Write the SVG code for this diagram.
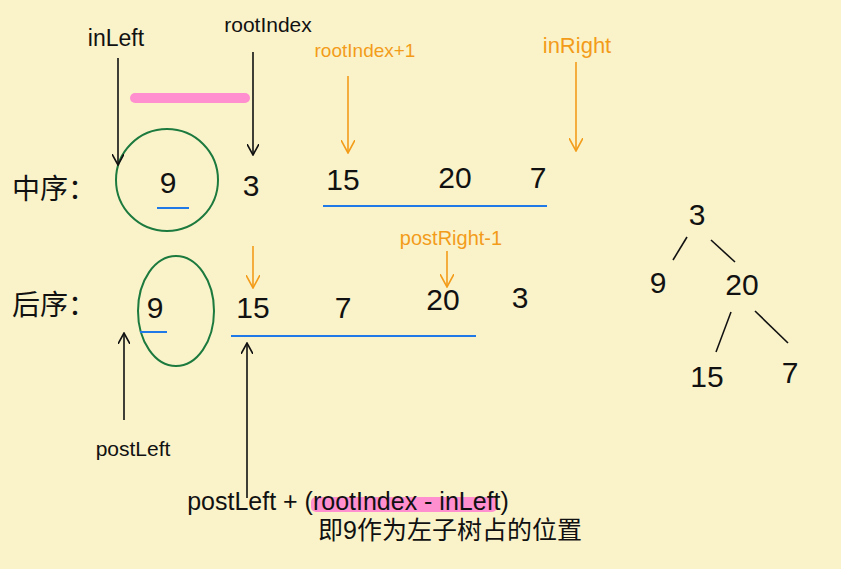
<svg xmlns="http://www.w3.org/2000/svg" width="841" height="569" viewBox="0 0 841 569">
<defs>
<marker id="ab" viewBox="0 0 12 12" refX="11" refY="6" markerWidth="12" markerHeight="12" markerUnits="userSpaceOnUse" orient="auto">
<path d="M0,0 L11,6 L0,12" fill="none" stroke="#111" stroke-width="1.6"/>
</marker>
<marker id="ao" viewBox="0 0 14 14" refX="13" refY="7" markerWidth="14" markerHeight="14" markerUnits="userSpaceOnUse" orient="auto">
<path d="M0,0 L13,7 L0,14" fill="none" stroke="#f39c1a" stroke-width="1.6"/>
</marker>
</defs>
<style>
.t{font-family:"Liberation Sans","Noto Sans CJK SC",sans-serif;fill:#111;text-anchor:middle}
.n{font-size:30px}
.lb{font-size:21px}
.or{fill:#f39c1a;font-size:19px}
.cn{font-size:28px;text-anchor:start}
.bk{stroke:#111;stroke-width:1.6;fill:none}
.og{stroke:#f39c1a;stroke-width:1.6;fill:none}
.bl{stroke:#1f7ae8;stroke-width:2;fill:none}
.gr{stroke:#1d7a3e;stroke-width:2;fill:none}
</style>
<rect width="841" height="569" fill="#faf3ca"/>

<g id="highlight">
<line x1="135" y1="98" x2="245" y2="98" stroke="#ff8fcf" stroke-width="10" stroke-linecap="round"/>
<rect x="311" y="497" width="186" height="15" rx="5" fill="#ff8fcf"/>
</g>

<g id="label-inorder"><text class="t cn" x="12" y="199">中序：</text></g>
<g id="label-postorder"><text class="t cn" x="12" y="315">后序：</text></g>

<g id="in-9">
<circle cx="167" cy="180" r="51" class="gr"/>
<text class="t n" x="168" y="193">9</text>
<line x1="157" y1="208" x2="189" y2="208" class="bl"/>
</g>
<g id="in-3"><text class="t n" x="251" y="196">3</text></g>
<g id="in-15"><text class="t n" x="343" y="190">15</text></g>
<g id="in-20"><text class="t n" x="455" y="188">20</text></g>
<g id="in-7"><text class="t n" x="538" y="188">7</text></g>
<g id="in-right-range"><line x1="323" y1="206" x2="547" y2="206" class="bl"/></g>

<g id="post-9">
<ellipse cx="176" cy="311" rx="38" ry="55" class="gr"/>
<text class="t n" x="155" y="318">9</text>
<line x1="140" y1="332" x2="167" y2="332" class="bl"/>
</g>
<g id="post-15"><text class="t n" x="253" y="318">15</text></g>
<g id="post-7"><text class="t n" x="343" y="318">7</text></g>
<g id="post-20"><text class="t n" x="443" y="310">20</text></g>
<g id="post-3"><text class="t n" x="520" y="308">3</text></g>
<g id="post-right-range"><line x1="231" y1="336" x2="476" y2="336" class="bl"/></g>

<g id="lbl-inLeft"><text class="t" style="font-size:23px" x="116" y="46">inLeft</text></g>
<g id="lbl-rootIndex"><text class="t lb" x="268" y="32">rootIndex</text></g>
<g id="lbl-rootIndex1"><text class="t or" x="365" y="57">rootIndex+1</text></g>
<g id="lbl-inRight"><text class="t or" style="font-size:22px" x="577" y="53">inRight</text></g>
<g id="lbl-postRight1"><text class="t or" style="font-size:20px" x="451" y="245">postRight-1</text></g>
<g id="lbl-postLeft"><text class="t lb" x="133" y="456">postLeft</text></g>
<g id="lbl-formula"><text class="t" style="font-size:25px" x="348" y="510">postLeft + (rootIndex - inLeft)</text></g>
<g id="lbl-note"><text class="t" style="font-size:25px" x="450" y="539">即9作为左子树占的位置</text></g>

<g id="tree-3"><text class="t n" x="697" y="225">3</text></g>
<g id="tree-9"><text class="t n" x="658" y="293">9</text></g>
<g id="tree-20"><text class="t n" x="742" y="295">20</text></g>
<g id="tree-15"><text class="t n" x="707" y="387">15</text></g>
<g id="tree-7"><text class="t n" x="790" y="383">7</text></g>

<g id="connectors">
<line x1="118" y1="58" x2="118" y2="165" class="bk" marker-end="url(#ab)"/>
<line x1="253" y1="52" x2="253" y2="155" class="bk" marker-end="url(#ab)"/>
<line x1="348" y1="76" x2="348" y2="153" class="og" marker-end="url(#ao)"/>
<line x1="576" y1="62" x2="576" y2="151" class="og" marker-end="url(#ao)"/>
<line x1="253" y1="246" x2="253" y2="288" class="og" marker-end="url(#ao)"/>
<line x1="447" y1="251" x2="447" y2="287" class="og" marker-end="url(#ao)"/>
<line x1="124" y1="420" x2="124" y2="333" class="bk" marker-end="url(#ab)"/>
<line x1="247" y1="498" x2="247" y2="343" class="bk" marker-end="url(#ab)"/>
<line x1="687" y1="237" x2="673" y2="260" class="bk" stroke-width="2"/>
<line x1="711" y1="240" x2="735" y2="262" class="bk" stroke-width="2"/>
<line x1="731" y1="312" x2="716" y2="352" class="bk" stroke-width="2"/>
<line x1="755" y1="311" x2="788" y2="343" class="bk" stroke-width="2"/>
</g>
</svg>
